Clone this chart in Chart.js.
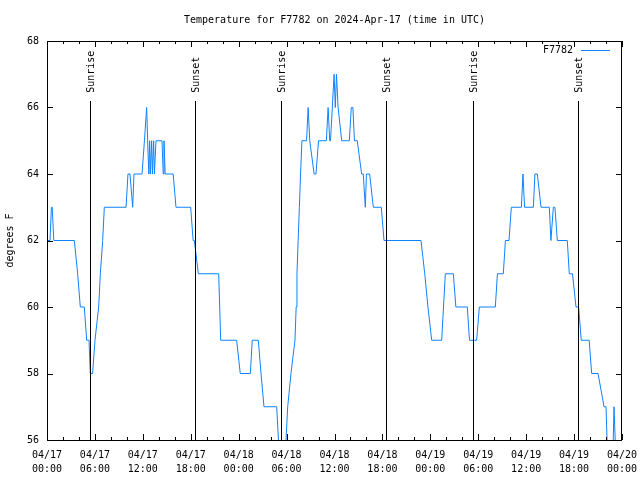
<!DOCTYPE html>
<html>
<head>
<meta charset="utf-8">
<script src="https://cdn.jsdelivr.net/npm/chart.js@4.4.1/dist/chart.umd.min.js"></script>
<style>
  body { margin: 0; background: #fff; }
  canvas { display: block; }
</style>
</head>
<body>
<canvas id="tempChart" width="640" height="480"></canvas>
<script>
// Data (hours since 2024-04-17 00:00 UTC, degrees F)
const stationName = 'F7782';
const chartTitle = 'Temperature for F7782 on 2024-Apr-17 (time in UTC)';
const hours = [
  0, 0.38, 0.55, 0.65, 0.85, 3.42, 3.84, 4.17, 4.67, 4.97, 5.26, 5.42, 5.71, 6.01, 6.47, 6.68, 6.97, 7.18,
  9.9, 10.14, 10.39, 10.73, 10.89, 11.9, 12.2, 12.48, 12.6, 12.75, 12.85, 12.95, 13.1, 13.2, 13.35, 13.45, 13.65,
  14.4, 14.55, 14.65, 14.8, 15.8, 16.15, 17.99, 18.3, 18.45, 18.95,
  21.5, 21.75, 23.75, 24.2, 25.46, 25.7, 26.46, 26.8, 27.17, 28.76, 28.98, 29.2, 29.7, 29.93, 30.14, 30.55,
  31.05, 31.2, 31.3, 31.45, 31.6, 31.75, 31.92, 32.5, 32.7, 32.9, 33.45, 33.68, 34.0, 34.98, 35.2, 35.4, 35.5,
  35.95, 36.1, 36.25, 36.45, 36.9, 37.86, 38.1, 38.3, 38.5, 38.85, 39.4, 39.6, 39.86, 40.0, 40.4, 40.86, 41.86, 42.2,
  46.83, 47.3, 47.7, 48.17, 49.42, 49.88, 50.88, 51.2, 52.63, 52.9, 53.8, 54.14, 56.14, 56.4, 57.14, 57.4, 57.85,
  58.14, 59.4, 59.6, 59.8, 60.9, 61.1, 61.4, 61.86, 62.9, 63.1, 63.4, 63.6, 63.9, 65.15, 65.4, 65.8, 66.24, 66.57,
  66.9, 67.89, 68.2, 69.0, 69.75, 70.0, 70.25, 70.8, 71.0, 71.1, 71.3, 72
];
const temps = [
  62, 62, 63, 63, 62, 62, 61, 60, 60, 59, 59, 58, 58, 59, 60, 61, 62, 63,
  63, 64, 64, 63, 64, 64, 65, 66, 65, 64, 65, 64, 65, 64, 65, 64, 65,
  65, 64, 65, 64, 64, 63, 63, 62, 62, 61,
  61, 59, 59, 58, 58, 59, 59, 58, 57, 57, 56, 55, 55, 56, 57, 58,
  59, 60, 61, 62, 63, 64, 65, 65, 66, 65, 64, 64, 65, 65, 66, 65, 65,
  67, 66, 67, 66, 65, 65, 66, 66, 65, 65, 64, 64, 63, 64, 64, 63, 63, 62,
  62, 61, 60, 59, 59, 61, 61, 60, 60, 59, 59, 60, 60, 61, 61, 62, 62,
  63, 63, 64, 63, 63, 64, 64, 63, 63, 62, 63, 63, 62, 62, 61, 61, 60, 60,
  59, 59, 58, 58, 57, 57, 55, 55, 57, 57, 55, 55
];

const sunriseHours = [5.42, 29.34, 53.33];
const sunsetHours = [18.57, 42.49, 66.49];

const dateLabels = ['04/17', '04/17', '04/17', '04/17', '04/18', '04/18', '04/18', '04/18', '04/19', '04/19', '04/19', '04/19', '04/20'];
const timeLabels = ['00:00', '06:00', '12:00', '18:00', '00:00', '06:00', '12:00', '18:00', '00:00', '06:00', '12:00', '18:00', '00:00'];

const lineColor = '#0f82ff';
const monoFont = '"DejaVu Sans Mono", "Liberation Mono", monospace';

// Frame, tics, sun markers, title and key, drawn gnuplot style
const framePlugin = {
    id: 'frame',
    afterDatasetsDraw(chart) {
        const { ctx, chartArea: a, scales } = chart;
        const xs = scales.x;
        const ys = scales.y;
        ctx.save();
        ctx.strokeStyle = '#000';
        ctx.fillStyle = '#000';
        ctx.lineWidth = 1;
        ctx.font = '10px ' + monoFont;

        // title, centred over the plot
        ctx.textAlign = 'center';
        ctx.textBaseline = 'middle';
        ctx.fillText(chartTitle, (a.left + a.right) / 2, 20);

        // sunrise / sunset markers
        const lineTop = Math.round(a.bottom - 0.85 * (a.bottom - a.top));
        const labelStart = a.bottom - 0.87 * (a.bottom - a.top);
        const events = [];
        sunriseHours.forEach(h => events.push({ h, name: 'Sunrise' }));
        sunsetHours.forEach(h => events.push({ h, name: 'Sunset' }));
        events.forEach(ev => {
            const px = Math.round(xs.getPixelForValue(ev.h)) + 0.5;
            ctx.beginPath();
            ctx.moveTo(px, lineTop);
            ctx.lineTo(px, a.bottom);
            ctx.stroke();
            ctx.save();
            ctx.translate(px + 1, labelStart);
            ctx.rotate(-Math.PI / 2);
            ctx.textAlign = 'left';
            ctx.textBaseline = 'middle';
            ctx.fillText(ev.name, 0, 0);
            ctx.restore();
        });

        // border
        ctx.strokeRect(a.left + 0.5, a.top + 0.5, a.right - a.left - 1, a.bottom - a.top);

        // x tics, major every 6 h, minor every 2 h, mirrored on top
        ctx.beginPath();
        for (let h = 0; h <= 72; h += 2) {
            const px = Math.round(xs.getPixelForValue(h)) + 0.5;
            const len = h % 6 === 0 ? 6 : 3;
            ctx.moveTo(px, a.bottom);
            ctx.lineTo(px, a.bottom - len);
            ctx.moveTo(px, a.top);
            ctx.lineTo(px, a.top + len);
        }
        // y tics, mirrored on right
        for (let t = 56; t <= 68; t += 2) {
            const py = Math.round(ys.getPixelForValue(t)) + 0.5;
            ctx.moveTo(a.left, py);
            ctx.lineTo(a.left + 6, py);
            ctx.moveTo(a.right, py);
            ctx.lineTo(a.right - 6, py);
        }
        ctx.stroke();

        // key
        const keyY = a.top + 9.5;
        ctx.textAlign = 'right';
        ctx.textBaseline = 'middle';
        ctx.fillText(stationName, a.right - 49, keyY);
        ctx.strokeStyle = lineColor;
        ctx.beginPath();
        ctx.moveTo(a.right - 41, keyY);
        ctx.lineTo(a.right - 12, keyY);
        ctx.stroke();
        ctx.restore();
    }
};

const points = hours.map((h, i) => ({ x: h, y: temps[i] }));

new Chart(document.getElementById('tempChart'), {
    type: 'line',
    data: {
        datasets: [{
            label: stationName,
            data: points,
            borderColor: lineColor,
            borderWidth: 1,
            pointRadius: 0,
            tension: 0,
            fill: false
        }]
    },
    options: {
        responsive: false,
        animation: false,
        devicePixelRatio: 1,
        layout: { padding: { left: 0, right: 18, top: 41, bottom: 0 } },
        plugins: {
            legend: { display: false },
            tooltip: { enabled: false },
            title: { display: false }
        },
        scales: {
            x: {
                type: 'linear',
                min: 0,
                max: 72,
                grid: { display: false, drawTicks: false },
                border: { display: false },
                ticks: {
                    stepSize: 6,
                    autoSkip: false,
                    maxRotation: 0,
                    padding: 8,
                    color: '#000',
                    font: { family: monoFont, size: 10, lineHeight: 1.4 },
                    callback: (v) => {
                        const i = Math.round(v / 6);
                        return [dateLabels[i], timeLabels[i]];
                    }
                },
                afterFit: (scale) => {
                    scale.height = 40;
                    scale.paddingLeft = 0;
                    scale.paddingRight = 0;
                }
            },
            y: {
                min: 56,
                max: 68,
                grid: { display: false, drawTicks: false },
                border: { display: false },
                ticks: {
                    stepSize: 2,
                    padding: 8,
                    color: '#000',
                    font: { family: monoFont, size: 10 }
                },
                title: {
                    display: true,
                    text: 'degrees F',
                    color: '#000',
                    font: { family: monoFont, size: 10, lineHeight: 1.2 },
                    padding: { top: 4, bottom: 0 }
                },
                afterFit: (scale) => {
                    scale.width = 47;
                    scale.paddingTop = 0;
                    scale.paddingBottom = 0;
                }
            }
        }
    },
    plugins: [framePlugin]
});
</script>
</body>
</html>
